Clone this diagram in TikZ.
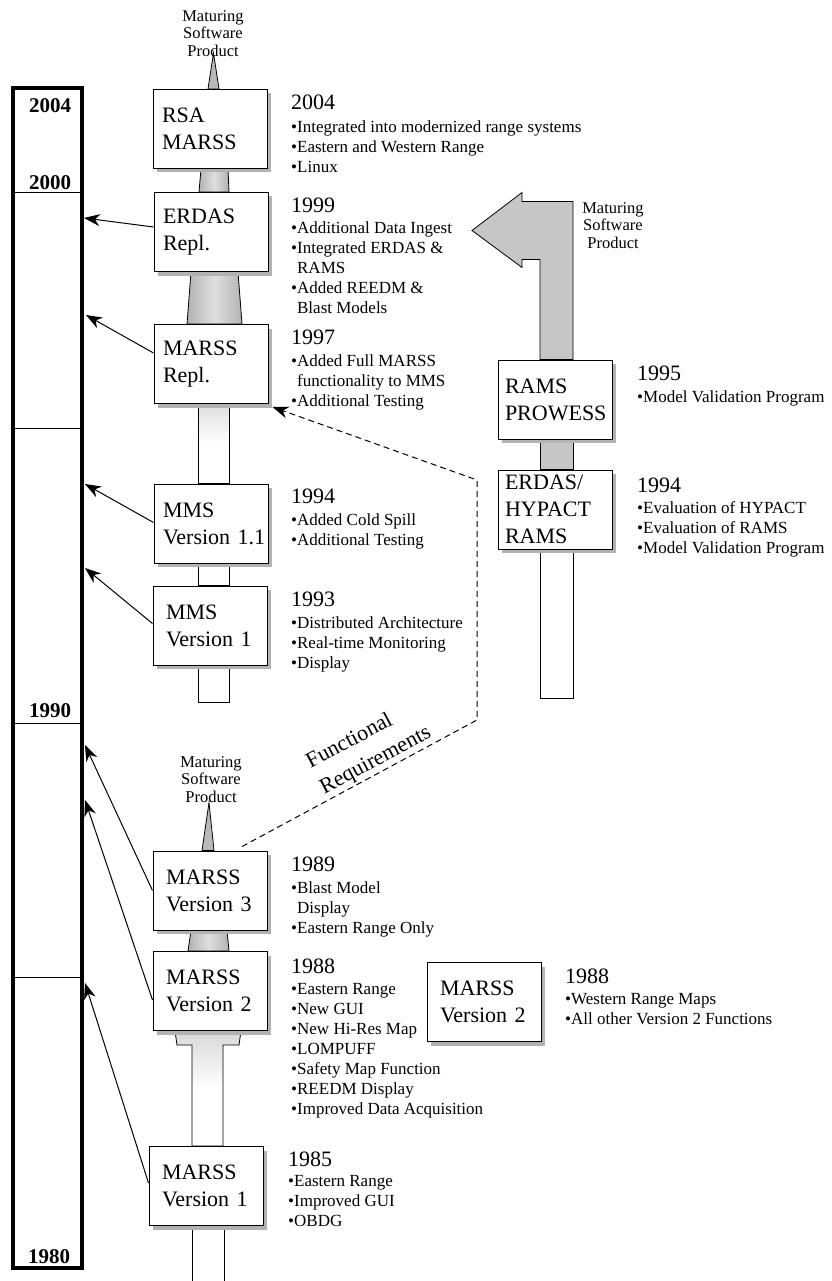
\documentclass[tikz,border=0pt]{standalone}
\usepackage{fontspec}
\setmainfont{Liberation Serif}
\usetikzlibrary{shadows,arrows.meta,backgrounds,calc}
\begin{document}
\begin{tikzpicture}[x=1pt,y=-1pt,
  box/.style={draw, line width=1pt, fill=white, minimum width=114pt, minimum height=79pt,
    text width=96pt, inner xsep=9pt, inner ysep=0pt, align=left,
    font=\fontsize{22}{27}\selectfont,
    general shadow={fill=gray!60, shadow xshift=4pt, shadow yshift=-4pt}},
  yeartext/.style={inner sep=0pt, anchor=base west, font=\fontsize{22}{26}\selectfont},
  bullettext/.style={inner sep=0pt, anchor=north west, align=left, font=\fontsize{17}{20}\selectfont},
  tltext/.style={inner sep=0pt, anchor=base, font=\fontsize{21}{24}\selectfont\bfseries},
  mattext/.style={inner sep=0pt, anchor=north, align=center, font=\fontsize{16.5}{17.5}\selectfont},
  graybar/.style={draw, line width=0.8pt, left color=gray!60, right color=gray!60, middle color=gray!25},
  whitebar/.style={draw, line width=0.8pt, fill=white},
  spike/.style={draw, line width=0.8pt, fill=gray!55},
  conn/.style={line width=1pt, -{Stealth[length=16pt,width=12pt,inset=5pt]}},
  dashconn/.style={conn, dash pattern=on 6pt off 4pt},
]
\useasboundingbox (0,0) rectangle (831,1281);

% timeline
\draw[line width=3.5pt] (13,88) rectangle (82,1268);
\foreach \yy in {193,428,723,977} \draw[line width=1pt] (13,\yy) -- (82,\yy);
\node[tltext] (l2004) at (50,113) {2004};
\node[tltext] (l2000) at (50,190) {2000};
\node[tltext] (l1990) at (50,717) {1990};
\node[tltext] (l1980) at (49,1263) {1980};
\coordinate (t1) at (84,218);
\coordinate (t2) at (86,315);
\coordinate (t3) at (85,484);
\coordinate (t4) at (85,568);
\coordinate (t5) at (85,745);
\coordinate (t6) at (85,800);
\coordinate (t7) at (85,983);

% boxes
\node[box] (rsa) at (210,129) {RSA\\MARSS};
\node[box] (erdasr) at (211,232) {ERDAS\\Repl.};
\node[box] (marssr) at (211,364) {MARSS\\Repl.};
\node[box] (mms11) at (211,523.5) {MMS\\\mbox{Version 1.1}};
\node[box, inner xsep=13pt, text width=88pt] (mms1) at (210,625.5) {MMS\\\mbox{Version 1}};
\node[box, inner xsep=13pt, text width=88pt] (mv3) at (210,890.5) {MARSS\\\mbox{Version 3}};
\node[box, inner xsep=13pt, text width=88pt] (mv2) at (210,991) {MARSS\\\mbox{Version 2}};
\node[box, inner xsep=13pt, text width=88pt] (mv1) at (206,1186) {MARSS\\\mbox{Version 1}};
\node[box, inner xsep=13pt, text width=88pt] (mv2b) at (484,1002) {MARSS\\\mbox{Version 2}};
\node[box, inner xsep=7pt, text width=100pt] (rams) at (555,399.5) {RAMS\\PROWESS};
\node[box, inner xsep=7pt, text width=100pt] (erdash) at (555,509.5) {ERDAS/\\HYPACT\\RAMS};

% column connectors
\begin{scope}[on background layer]
\fill[white] (0,0) rectangle (831,1281);
\draw[spike] ($(rsa.north)+(-2,0)$) -- ($(rsa.north)+(9,0)$) -- ($(rsa.north)+(3.5,-36)$) -- cycle;
\draw[graybar] ($(rsa.south)+(-9,0)$) -- ($(rsa.south)+(18,0)$) -- ($(erdasr.north)+(18,0)$) -- ($(erdasr.north)+(-12,0)$) -- cycle;
\draw[graybar] ($(erdasr.south)+(-20,0)$) -- ($(erdasr.south)+(27,0)$) -- ($(marssr.north)+(31,0)$) -- ($(marssr.north)+(-24,0)$) -- cycle;
\draw[draw, line width=0.8pt, top color=gray!25, bottom color=white, middle color=white] ($(marssr.south)+(-13,0)$) rectangle ($(mms11.north)+(18,0)$);
\draw[whitebar] ($(mms11.south)+(-13,0)$) rectangle ($(mms1.north)+(19,0)$);
\draw[whitebar] ($(mms1.south)+(-12,0)$) rectangle ($(mms1.south)+(19,37)$);
\draw[spike] ($(mv3.north)+(-8,0)$) -- ($(mv3.north)+(4,0)$) -- ($(mv3.north)+(-1,-48)$) -- cycle;
\draw[graybar] ($(mv3.south)+(-19,0)$) -- ($(mv3.south)+(17,0)$) -- ($(mv2.north)+(19,0)$) -- ($(mv2.north)+(-22,0)$) -- cycle;
\draw[draw, line width=0.8pt, top color=gray!30, bottom color=white, middle color=white]
  ($(mv2.south)+(-35,0)$) -- ($(mv2.south)+(31,0)$) -- ($(mv2.south)+(29,14)$) --
  ($(mv1.north |- mv2.south)+(17,14)$) -- ($(mv1.north)+(17,0)$) -- ($(mv1.north)+(-14,0)$) --
  ($(mv1.north |- mv2.south)+(-14,14)$) -- ($(mv2.south)+(-33,14)$) -- cycle;
\draw[line width=0.8pt] ($(mv1.south)+(-14,0)$) -- ($(mv1.south)+(-14,56)$);
\draw[line width=0.8pt] ($(mv1.south)+(18,0)$) -- ($(mv1.south)+(18,56)$);
% right column
\draw[draw, line width=0.8pt, fill=gray!45]
  ($(rams.north)+(-15,0)$) -- ($(rams.north)+(-15,-100)$) -- ($(rams.north)+(-33,-100)$) --
  ($(rams.north)+(-33,-92)$) -- ($(rams.north)+(-83,-129)$) -- ($(rams.north)+(-33,-167)$) --
  ($(rams.north)+(-33,-158)$) -- ($(rams.north)+(18,-158)$) -- ($(rams.north)+(18,0)$) -- cycle;
\draw[draw, line width=0.8pt, fill=gray!45] ($(rams.south)+(-15,0)$) rectangle ($(erdash.north)+(18,0)$);
\draw[whitebar] ($(erdash.south)+(-15,0)$) rectangle ($(erdash.south)+(18,149)$);
\end{scope}

% maturing labels
\node[mattext] (mat1) at (213,10) {Maturing\\Software\\Product};
\node[mattext] (mat2) at (211,756) {Maturing\\Software\\Product};
\node[mattext] (mat3) at (613,202) {Maturing\\Software\\Product};

% year texts
\node[yeartext] (y2004) at (291,110) {2004};
\node[bullettext] (b2004) at (291,120.5) {•Integrated into modernized range systems\\•Eastern and Western Range\\•Linux};
\node[yeartext] (y1999) at (291,213) {1999};
\node[bullettext] (b1999) at (291,221.5) {•Additional Data Ingest\\•Integrated ERDAS \&\\\phantom{•}RAMS\\•Added REEDM \&\\\phantom{•}Blast Models};
\node[yeartext] (y1997) at (291,344) {1997};
\node[bullettext] (b1997) at (291,354.5) {•Added Full MARSS\\\phantom{•}functionality to MMS\\•Additional Testing};
\node[yeartext] (y1994a) at (291,503) {1994};
\node[bullettext] (b1994a) at (291,513.5) {•Added Cold Spill\\•Additional Testing};
\node[yeartext] (y1993) at (291,606) {1993};
\node[bullettext] (b1993) at (291,616.5) {•Distributed Architecture\\•Real-time Monitoring\\•Display};
\node[yeartext] (y1989) at (291,871) {1989};
\node[bullettext] (b1989) at (291,881.5) {•Blast Model\\\phantom{•}Display\\•Eastern Range Only};
\node[yeartext] (y1988a) at (291,973) {1988};
\node[bullettext] (b1988a) at (291,983.5) {•Eastern Range\\•New GUI\\•New Hi-Res Map\\•LOMPUFF\\•Safety Map Function\\•REEDM Display\\•Improved Data Acquisition};
\node[yeartext] (y1985) at (288,1166) {1985};
\node[bullettext] (b1985) at (288,1175.5) {•Eastern Range\\•Improved GUI\\•OBDG};
\node[yeartext] (y1988b) at (565,983) {1988};
\node[bullettext] (b1988b) at (565,993.5) {•Western Range Maps\\•All other Version 2 Functions};
\node[yeartext] (y1995) at (637,380) {1995};
\node[bullettext] (b1995) at (637,390.5) {•Model Validation Program};
\node[yeartext] (y1994b) at (637,492) {1994};
\node[bullettext] (b1994b) at (637,501.5) {•Evaluation of HYPACT\\•Evaluation of RAMS\\•Model Validation Program};

% arrows to timeline
\draw[conn] ([yshift=5pt]erdasr.west) -- (t1);
\draw[conn] ([yshift=11pt]marssr.west) -- (t2);
\draw[conn] ([yshift=1pt]mms11.west) -- (t3);
\draw[conn] ([yshift=2pt]mms1.west) -- (t4);
\draw[conn] (mv3.west) -- (t5);
\draw[conn] ([yshift=-9pt]mv2.west) -- (t6);
\draw[conn] ([yshift=3pt]mv1.west) -- (t7);

% functional requirements
\coordinate (fr1) at (477,720);
\coordinate (fr2) at (477,480);
\draw[dashconn] ([xshift=32pt,yshift=4pt]mv3.north) -- (fr1) -- (fr2) -- ([xshift=4pt,yshift=-3pt]marssr.south east);
\node[inner sep=0pt, align=left, rotate=28, font=\fontsize{22}{29}\selectfont] (freq) at (369,748) {Functional\\Requirements};
\end{tikzpicture}
\end{document}
